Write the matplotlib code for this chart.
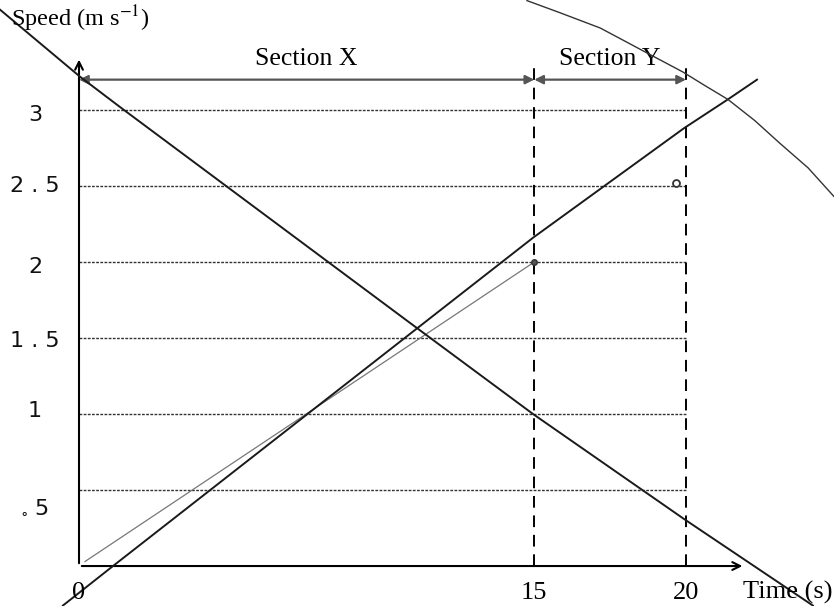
import matplotlib
matplotlib.use("Agg")
import matplotlib.pyplot as plt

plt.rcParams['mathtext.fontset'] = 'stix'

# --- data (time in s, speed in m/s) ---
grid_speeds = [0.5, 1.0, 1.5, 2.0, 2.5, 3.0]
ytick_labels = [r"$_{\circ}$ 5", "1", "1 . 5", "2", "2 . 5", "3"]
ytick_label_pos = [0.38, 1.02, 1.48, 1.97, 2.50, 2.97]
xtick_vals = [0, 15, 20]
xtick_labels = ["0", "15", "20"]
section_edges = [0, 15, 20]
section_names = ["Section X", "Section Y"]

# thin ruled line (grey)
line_a_t = [0.2, 15.0]
line_a_v = [0.03, 2.0]
# steeper rising line
line_b_t = [-0.53, 1.12, 14.96, 19.93, 21.38, 22.34]
line_b_v = [-0.26, 0.0, 2.16, 2.88, 3.07, 3.20]
# falling line
line_c_t = [-2.6, 0.03, 1.35, 10.97, 14.96, 19.93, 24.18]
line_c_v = [3.66, 3.22, 3.02, 1.59, 1.0, 0.31, -0.26]
# arc top right
arc_t = [14.76, 15.85, 17.17, 17.83, 18.58, 19.90, 20.63, 21.38, 22.27, 23.10, 24.02, 24.88]
arc_v = [3.72, 3.64, 3.54, 3.47, 3.39, 3.25, 3.16, 3.07, 2.93, 2.78, 2.62, 2.43]
# plotted points
pt_dot = (15.0, 2.0)
pt_ring = (19.68, 2.52)

fig = plt.figure(figsize=(8.34, 6.06), dpi=100)
ax = fig.add_axes([0, 0, 1, 1])
ax.set_xlim(-2.603, 24.876)
ax.set_ylim(-0.263, 3.724)
ax.axis('off')

# grid lines
for v in grid_speeds:
    ax.plot([0, 20], [v, v], color='#333333', lw=1.0, ls=(0, (2, 1)), zorder=1)

# dashed verticals at section edges
for t in section_edges[1:]:
    ax.plot([t, t], [0, 3.32], color='black', lw=1.4, ls=(0, (6, 4)), zorder=2)

# axes with arrows
ax.annotate('', xy=(0, 3.35), xytext=(0, 0),
            arrowprops=dict(arrowstyle='->', color='black', lw=1.5, mutation_scale=14))
ax.annotate('', xy=(21.95, 0), xytext=(0, 0),
            arrowprops=dict(arrowstyle='->', color='black', lw=1.5, mutation_scale=14))

# section arrows
sec_v = 3.2
for i, name in enumerate(section_names):
    a, b = section_edges[i], section_edges[i + 1]
    ax.annotate('', xy=(b, sec_v), xytext=(a, sec_v),
                arrowprops=dict(arrowstyle='<|-|>', color='#555555', lw=1.6,
                                mutation_scale=13, shrinkA=0, shrinkB=0))
    ax.text((a + b) / 2, 3.335, name, fontsize=18.5, family='Liberation Serif',
            ha='center', va='center')

# lines
ax.plot(line_a_t, line_a_v, color='#777777', lw=0.9, zorder=3)
ax.plot(line_b_t, line_b_v, color='#1a1a1a', lw=1.4, zorder=3)
ax.plot(line_c_t, line_c_v, color='#1a1a1a', lw=1.4, zorder=3)
ax.plot(arc_t, arc_v, color='#333333', lw=1.0, zorder=3)

ax.plot(*pt_dot, 'o', ms=4, mfc='#555555', mec='#333333', zorder=4)
ax.plot(*pt_ring, 'o', ms=5, mfc='white', mec='#333333', mew=1.3, zorder=4)

# tick labels
for t, lab in zip(xtick_vals, xtick_labels):
    ax.text(t, -0.175, lab, fontsize=19, family='Liberation Serif',
            ha='center', va='center')
for v, lab in zip(ytick_label_pos, ytick_labels):
    ax.text(-1.45, v, lab, fontsize=16, family='DejaVu Sans',
            ha='center', va='center', color='#111111')

# axis titles
ax.text(-2.25, 3.6, r"Speed (m s$^{-1}$)", fontsize=17.5, family='Liberation Serif',
        ha='left', va='center')
ax.text(21.88, -0.175, "Time (s)", fontsize=19, family='Liberation Serif',
        ha='left', va='center')

fig.savefig("out.png", dpi=100)
